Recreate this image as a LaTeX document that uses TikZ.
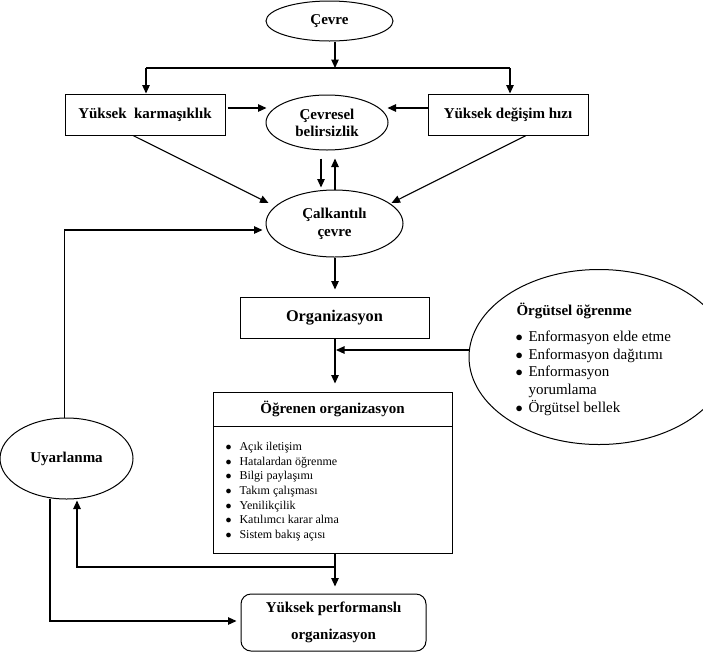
\documentclass[tikz,border=0pt]{standalone}
\usepackage{fontspec}
\setmainfont{Liberation Serif}
\usetikzlibrary{arrows.meta,shapes.geometric}
\newcommand{\mybul}{\makebox[13pt][l]{$\bullet$}}
\begin{document}
\begin{tikzpicture}[x=1pt,y=-1pt,
  line width=1.1pt,
  arr/.style={-{Triangle[length=8.5pt,width=7.5pt]}, line width=1.1pt},
  lbl/.style={font=\fontsize{15}{17}\selectfont\bfseries, align=center, inner sep=0pt},
  ell/.style={draw, ellipse, line width=1pt, lbl},
  box/.style={draw, rectangle, line width=1pt, lbl},
  itemL/.style={font=\fontsize{15}{18}\selectfont, inner sep=0pt, anchor=base west},
  itemS/.style={font=\fontsize{12}{14}\selectfont, inner sep=0pt, anchor=base west},
]
\useasboundingbox (0,0) rectangle (703,667);
% Orgutsel ogrenme ellipse (clipped at the right edge)
\begin{scope}
\clip (0,0) rectangle (703,667);
\node[ell, minimum width=260pt, minimum height=175pt] (orgut) at (599,357) {};
\end{scope}
\node[itemL, font=\fontsize{15}{18}\selectfont\bfseries] (orgutt) at (516,315) {Örgütsel öğrenme};
\node[itemL] (oi1) at (515,341.5) {\mybul Enformasyon elde etme};
\node[itemL] (oi2) at (515,359.2) {\mybul Enformasyon dağıtımı};
\node[itemL] (oi3) at (515,376.9) {\mybul Enformasyon};
\node[itemL] (oi3b) at (528,394.6) {yorumlama};
\node[itemL] (oi4) at (515,412.3) {\mybul Örgütsel bellek};

% main nodes
\node[ell, minimum width=127pt, minimum height=40pt] (cevre) at (329.5,21) {Çevre};
\node[box, minimum width=160pt, minimum height=41pt] (karm) at (145,114.5) {Yüksek\ \ karmaşıklık};
\node[box, minimum width=160pt, minimum height=41pt] (degis) at (508,114.5) {Yüksek değişim hızı};
\node[ell, minimum width=122pt, minimum height=55pt] (belirs) at (327,122.5) {Çevresel\\belirsizlik};
\node[ell, minimum width=137pt, minimum height=67pt, font=\fontsize{15}{18}\selectfont\bfseries] (calk) at (334.5,223.5) {Çalkantılı\\çevre};
\node[box, minimum width=189pt, minimum height=41pt, font=\fontsize{16.3}{19}\selectfont\bfseries] (org) at (334.5,317.5) {Organizasyon};
\node[box, minimum width=239pt, minimum height=34pt] (ogrt) at (332.5,409) {Öğrenen organizasyon};
\node[draw, rectangle, line width=1pt, inner sep=0pt, minimum width=239pt, minimum height=127pt] (ogrl) at (332.5,489.5) {};
\foreach \t [count=\i] in {Açık iletişim, Hatalardan öğrenme, Bilgi paylaşımı, Takım çalışması, Yenilikçilik, Katılımcı karar alma, Sistem bakış açısı}
  \node[itemS] (ogi\i) at (225,{450.5+(\i-1)*14.67}) {\makebox[14pt][l]{$\bullet$}\t};
\node[ell, minimum width=133pt, minimum height=81pt] (uyar) at (66.5,458.5) {Uyarlanma};
\node[draw, rectangle, rounded corners=10pt, line width=1pt, minimum width=185pt, minimum height=57pt, font=\fontsize{15}{27}\selectfont\bfseries, align=center, inner sep=0pt] (perf) at (333.5,622.5) {Yüksek performanslı\\organizasyon};

% helper coordinates
\coordinate (ax) at (335,0);
\coordinate (j1) at (335,68);
\coordinate (jl) at (146,68);
\coordinate (jr) at (510,68);
\coordinate (m1) at (336,350);
\coordinate (j2) at (335,567);
\coordinate (c77) at (77,567);
\coordinate (c50) at (50,621);
\coordinate (c64) at (64.5,230);

% connectors
\draw[arr] (cevre.south -| ax) -- (j1);
\draw (jl) -- (jr);
\draw[arr] (jl) -- (jl |- karm.north);
\draw[arr] (jr) -- (jr |- degis.north);
\draw[arr] ([shift={(2,-6.5)}]karm.east) -- ([shift={(1,-14.5)}]belirs.west);
\draw[arr] ([shift={(0,-6.5)}]degis.west) -- ([shift={(-1,-14.5)}]belirs.east);
\draw[arr] ([shift={(-6,8)}]belirs.south) -- ([shift={(-13.5,-2)}]calk.north);
\draw[arr] ([shift={(0.5,0)}]calk.north) -- ([shift={(8,8)}]belirs.south);
\draw[arr] ([shift={(-12,0)}]karm.south) -- ([shift={(3,-20.5)}]calk.west);
\draw[arr] ([shift={(18,0)}]degis.south) -- ([shift={(-12,-20.5)}]calk.east);
\draw[arr] ([shift={(-2,0)}]uyar.north) -- (c64) -- ([shift={(-3,6.5)}]calk.west);
\draw[arr] (calk.south -| ax) -- ([shift={(0,-7)}]org.north -| ax);
\draw[arr] (org.south -| ax) -- ([shift={(0,-8)}]ogrt.north -| ax);
\draw[arr] ([shift={(0,-7)}]orgut.west) -- (m1);
\draw[arr] (ogrl.south -| ax) -- ([shift={(0,-7)}]perf.north -| ax);
\draw[arr] (j2) -- (c77) -- ([shift={(10.5,1)}]uyar.south);
\draw[arr] ([shift={(-16.5,-1)}]uyar.south) -- (c50) -- ([shift={(-4,-1.5)}]perf.west);
\end{tikzpicture}
\end{document}
